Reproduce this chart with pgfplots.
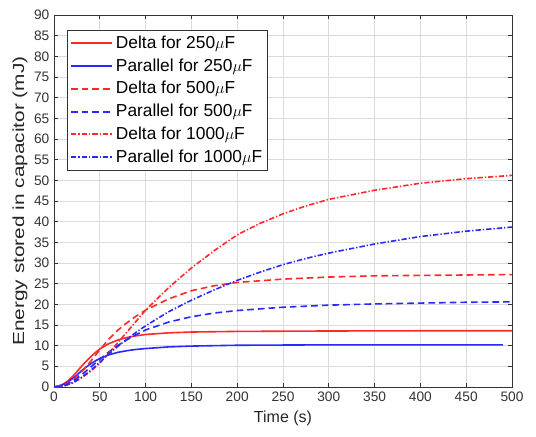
\documentclass[border=0pt]{standalone}
\usepackage{fontspec}
\setmainfont{Liberation Sans}
\usepackage{graphicx}
\usepackage{pgfplots}
\pgfplotsset{compat=1.18}
\definecolor{mred}{RGB}{255,40,40}
\definecolor{mblue}{RGB}{40,40,255}
\begin{document}
\begin{tikzpicture}
\begin{axis}[
  scale only axis,
  width=343.5pt, height=279pt,
  xmin=0, xmax=500, ymin=0, ymax=90,
  xtick={0,50,...,500}, ytick={0,5,...,90},
  /pgf/number format/assume math mode=true,
  tick label style={font=\fontsize{10.3}{12}\selectfont, text=black!80},
  tick align=inside,
  major tick length=3pt,
  tick style={black!80, line width=0.5pt},
  axis line style={black!80, line width=0.5pt},
  grid=major,
  major grid style={black!14, line width=0.5pt},
  xlabel={Time (s)},
  ylabel={\scalebox{1.3}[1]{Energy stored in capacitor (mJ)}},
  xlabel style={font=\fontsize{12}{14}\selectfont, text=black!85, at={(axis description cs:0.5,-0.0833)}, anchor=center},
  ylabel style={font=\fontsize{12}{14}\selectfont, text=black!85, at={(axis description cs:-0.0742,0.5)}, anchor=center},
  legend cell align=left,
  legend style={at={(axis description cs:0.0284,0.9597)}, anchor=north west,
    font=\fontsize{13}{15}\selectfont, draw=black!80, fill=white,
    row sep=2.25pt, inner xsep=2pt, inner ysep=2pt},
  legend image code/.code={\draw[mark repeat=2,mark phase=2,#1] plot coordinates {(0pt,0pt) (15.5pt,0pt) (31pt,0pt)};},
  legend image post style={line width=1.5pt},
  every axis plot/.append style={line width=1.2pt},
]
% Delta 250uF
\addplot[color=mred, solid] coordinates {
(0,0) (5,0.2) (10,0.7) (15,1.4) (20,2.5) (25,3.7) (30,5.0) (35,6.2) (40,7.3) (45,8.3) (50,9.2) (60,10.5) (70,11.4) (80,12.0) (90,12.4) (100,12.7) (125,13.1) (150,13.3) (200,13.45) (250,13.5) (300,13.55) (400,13.6) (500,13.6)};
\addlegendentry{Delta for 250$\mu$F}
% Parallel 250uF
\addplot[color=mblue, solid] coordinates {
(0,0) (5,0.2) (10,0.6) (15,1.2) (20,2.0) (25,2.9) (30,3.9) (35,4.8) (40,5.6) (45,6.3) (50,6.9) (60,7.8) (70,8.4) (80,8.8) (90,9.1) (100,9.3) (125,9.7) (150,9.9) (200,10.1) (250,10.15) (300,10.2) (400,10.2) (490,10.2)};
\addlegendentry{Parallel for 250$\mu$F}
% Delta 500uF
\addplot[color=mred, dash pattern=on 5pt off 3pt] coordinates {
(0,0) (10,0.4) (20,1.6) (30,3.6) (40,6.2) (50,9.0) (60,11.6) (70,13.8) (80,15.6) (90,17.2) (100,18.6) (125,21.3) (150,23.3) (175,24.5) (200,25.3) (250,26.1) (300,26.6) (350,26.9) (400,27.0) (450,27.1) (500,27.2)};
\addlegendentry{Delta for 500$\mu$F}
% Parallel 500uF
\addplot[color=mblue, dash pattern=on 5pt off 3pt] coordinates {
(0,0) (10,0.3) (20,1.3) (30,2.9) (40,4.8) (50,6.7) (60,8.5) (70,10.1) (80,11.5) (90,12.7) (100,13.8) (125,15.7) (150,17.0) (175,17.9) (200,18.5) (250,19.3) (300,19.8) (350,20.1) (400,20.3) (450,20.5) (500,20.6)};
\addlegendentry{Parallel for 500$\mu$F}
% Delta 1000uF
\addplot[color=mred, dash pattern=on 4pt off 1.5pt on 1pt off 1.5pt] coordinates {
(0,0) (10,0.2) (20,0.9) (30,2.2) (40,3.8) (50,5.8) (60,8.2) (70,10.8) (80,13.4) (90,16.0) (100,18.6) (125,24.0) (150,28.8) (175,33.0) (200,36.8) (225,39.6) (250,41.9) (275,43.8) (300,45.4) (350,47.6) (400,49.3) (450,50.4) (500,51.2)};
\addlegendentry{Delta for 1000$\mu$F}
% Parallel 1000uF
\addplot[color=mblue, dash pattern=on 4pt off 1.5pt on 1pt off 1.5pt] coordinates {
(0,0) (10,0.2) (20,1.0) (30,2.3) (40,4.0) (50,6.0) (60,8.0) (70,9.9) (80,11.6) (90,13.3) (100,14.8) (125,18.2) (150,21.0) (175,23.5) (200,25.8) (225,27.8) (250,29.6) (275,31.1) (300,32.4) (350,34.6) (400,36.4) (450,37.7) (500,38.7)};
\addlegendentry{Parallel for 1000$\mu$F}
\end{axis}
\path (0,0) ++(-40.5pt,-36.75pt);
\path (343.5pt,279pt) ++(18pt,11.25pt);
\end{tikzpicture}
\end{document}
